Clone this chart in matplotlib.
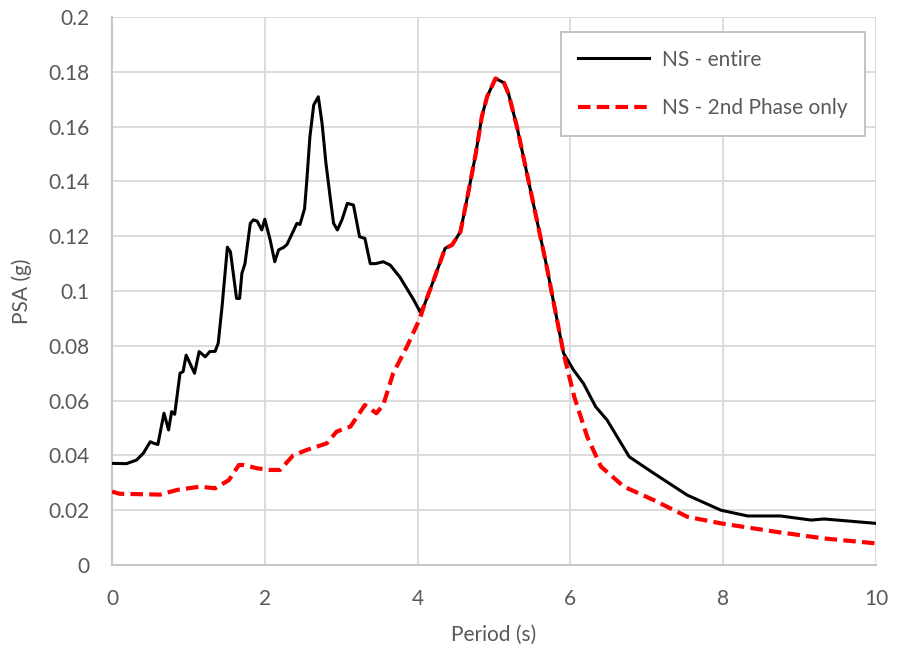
import numpy as np
import matplotlib
matplotlib.use("Agg")
import matplotlib.pyplot as plt

# NS component, full record
period_entire = [0.00, 0.19, 0.32, 0.41, 0.50, 0.54, 0.60, 0.68, 0.74, 0.78, 0.82,
                 0.89, 0.93, 0.97, 1.08, 1.14, 1.22, 1.28, 1.35, 1.39, 1.44, 1.51,
                 1.55, 1.63, 1.67, 1.70, 1.74, 1.81, 1.85, 1.90, 1.96, 2.00, 2.07,
                 2.13, 2.18, 2.25, 2.29, 2.38, 2.42, 2.46, 2.52, 2.55, 2.59, 2.64,
                 2.70, 2.75, 2.80, 2.86, 2.90, 2.95, 3.01, 3.08, 3.16, 3.24, 3.31,
                 3.38, 3.45, 3.55, 3.64, 3.77, 3.95, 4.03, 4.08, 4.21, 4.36, 4.45,
                 4.56, 4.67, 4.76, 4.84, 4.91, 5.02, 5.13, 5.19, 5.30, 5.43, 5.56,
                 5.69, 5.80, 5.91, 6.04, 6.17, 6.33, 6.48, 6.77, 7.09, 7.53, 7.97,
                 8.32, 8.75, 9.15, 9.32, 10.00]
psa_entire = [0.0371, 0.0370, 0.0383, 0.0408, 0.0450, 0.0445, 0.0440, 0.0554, 0.0493,
              0.0560, 0.0550, 0.0700, 0.0706, 0.0766, 0.0700, 0.0779, 0.0760, 0.0779,
              0.0780, 0.0810, 0.0943, 0.1160, 0.1143, 0.0973, 0.0973, 0.1065, 0.1100,
              0.1247, 0.1260, 0.1255, 0.1223, 0.1262, 0.1186, 0.1107, 0.1150, 0.1160,
              0.1170, 0.1223, 0.1247, 0.1243, 0.1300, 0.1405, 0.1563, 0.1679, 0.1709,
              0.1610, 0.1466, 0.1332, 0.1247, 0.1223, 0.1260, 0.1320, 0.1314, 0.1198,
              0.1192, 0.1100, 0.1100, 0.1107, 0.1095, 0.1050, 0.0967, 0.0925, 0.0943,
              0.1040, 0.1156, 0.1168, 0.1216, 0.1369, 0.1500, 0.1636, 0.1710, 0.1776,
              0.1760, 0.1720, 0.1600, 0.1430, 0.1260, 0.1089, 0.0930, 0.0773, 0.0712,
              0.0663, 0.0578, 0.0529, 0.0395, 0.0335, 0.0255, 0.0200, 0.0179, 0.0179,
              0.0164, 0.0168, 0.0152]

# NS component, 2nd phase of the record only
period_2nd = [0.00, 0.10, 0.63, 0.85, 1.15, 1.35, 1.53, 1.66, 1.72, 1.90, 2.07, 2.20,
              2.37, 2.55, 2.81, 2.94, 3.12, 3.31, 3.46, 3.55, 3.68, 3.86, 4.03, 4.08,
              4.21, 4.36, 4.45, 4.56, 4.67, 4.76, 4.84, 4.91, 5.02, 5.13, 5.19, 5.30,
              5.43, 5.56, 5.69, 5.80, 5.91, 6.05, 6.22, 6.40, 6.70, 7.09, 7.53, 7.97,
              8.67, 9.32, 10.00]
psa_2nd = [0.0268, 0.0260, 0.0257, 0.0274, 0.0286, 0.0280, 0.0310, 0.0365, 0.0365,
           0.0353, 0.0347, 0.0347, 0.0400, 0.0420, 0.0444, 0.0487, 0.0505, 0.0584,
           0.0554, 0.0584, 0.0700, 0.0797, 0.0900, 0.0943, 0.1040, 0.1156, 0.1168,
           0.1216, 0.1369, 0.1500, 0.1636, 0.1710, 0.1776, 0.1760, 0.1720, 0.1600,
           0.1430, 0.1260, 0.1089, 0.0930, 0.0773, 0.0614, 0.0468, 0.0359, 0.0286,
           0.0237, 0.0176, 0.0152, 0.0122, 0.0097, 0.0079]

x_ticks = [0, 2, 4, 6, 8, 10]
y_ticks = [0, 0.02, 0.04, 0.06, 0.08, 0.1, 0.12, 0.14, 0.16, 0.18, 0.2]
y_ticklabels = ["0", "0.02", "0.04", "0.06", "0.08", "0.1", "0.12", "0.14", "0.16", "0.18", "0.2"]

plt.rcParams['font.family'] = ['Lato', 'DejaVu Sans']
TXT_GREY = '#595959'
FS = 15

fig = plt.figure(figsize=(8.97, 6.56), dpi=100)
ax = fig.add_axes([0.1249, 0.1387, 0.8517, 0.8353])

ax.plot(period_entire, psa_entire, color='black', lw=2.2, label='NS - entire', zorder=3)
ax.plot(period_2nd, psa_2nd, color='#ff0000', lw=3.0, ls=(0, (3.0, 1.5)),
        label='NS - 2nd Phase only', zorder=4)

ax.set_xlim(0, 10)
ax.set_ylim(0, 0.2)
ax.set_xticks(x_ticks)
ax.set_yticks(y_ticks)
ax.set_yticklabels(y_ticklabels)
ax.grid(True, color='#d9d9d9', lw=1.3, zorder=0)
ax.set_axisbelow(True)
for side in ['top', 'right']:
    ax.spines[side].set_visible(False)
for side in ['left', 'bottom']:
    ax.spines[side].set_color('#c8c8c8')
    ax.spines[side].set_linewidth(1.5)
ax.tick_params(length=0, labelsize=FS, labelcolor=TXT_GREY)
ax.tick_params(axis='x', pad=17)
ax.tick_params(axis='y', pad=16)

ax.set_xlabel('Period (s)', fontsize=FS, color=TXT_GREY, labelpad=12)
ax.set_ylabel('PSA (g)', fontsize=FS, color=TXT_GREY, labelpad=12)

leg = ax.legend(loc='upper right', bbox_to_anchor=(0.9856, 0.9726), borderaxespad=0,
                fontsize=FS, frameon=True, fancybox=False, labelspacing=1.35,
                handlelength=3.4, handletextpad=0.6, borderpad=0.85,
                labelcolor=TXT_GREY)
leg.get_frame().set_edgecolor('#bfbfbf')
leg.get_frame().set_linewidth(1.3)
leg.get_frame().set_alpha(1)

fig.savefig('out.png', dpi=100)
